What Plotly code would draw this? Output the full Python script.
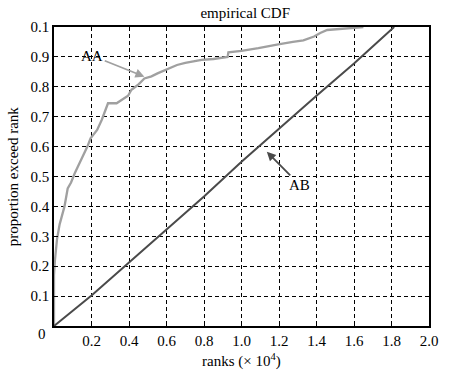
import plotly.graph_objects as go

# Data
aa_x = [0, 0, 0.005, 0.016, 0.03, 0.045, 0.056, 0.073, 0.091, 0.11, 0.134, 0.16, 0.178, 0.195,
        0.23, 0.255, 0.288, 0.334, 0.36, 0.395, 0.413, 0.447, 0.482, 0.52, 0.552, 0.6, 0.656,
        0.7, 0.787, 0.85, 0.926, 0.93, 1.0, 1.09, 1.15, 1.196, 1.274, 1.33, 1.387, 1.42,
        1.457, 1.55, 1.65]
aa_y = [0, 0.17, 0.22, 0.29, 0.34, 0.37, 0.40, 0.46, 0.48, 0.51, 0.54, 0.575, 0.60, 0.628,
        0.656, 0.69, 0.745, 0.745, 0.755, 0.77, 0.79, 0.806, 0.828, 0.835, 0.845, 0.858, 0.873,
        0.88, 0.89, 0.893, 0.9, 0.915, 0.92, 0.929, 0.935, 0.942, 0.95, 0.955, 0.968, 0.98,
        0.99, 0.995, 1.0]
ab_x = [0, 0.2, 0.4, 0.6, 0.8, 1.0, 1.2, 1.4, 1.6, 1.814]
ab_y = [0, 0.102, 0.212, 0.322, 0.433, 0.549, 0.66, 0.77, 0.878, 1.0]

x_ticks = [0.2, 0.4, 0.6, 0.8, 1.0, 1.2, 1.4, 1.6, 1.8, 2.0]
x_labels = ["0.2", "0.4", "0.6", "0.8", "1.0", "1.2", "1.4", "1.6", "1.8", "2.0"]
y_ticks = [0.1, 0.2, 0.3, 0.4, 0.5, 0.6, 0.7, 0.8, 0.9, 1.0]
y_labels = ["0.1", "0.2", "0.3", "0.4", "0.5", "0.6", "0.7", "0.8", "0.9", "0.1"]

FONT = "Liberation Serif"

fig = go.Figure()
fig.add_trace(go.Scatter(x=aa_x, y=aa_y, mode="lines",
                         line=dict(color="#a0a0a0", width=2.3), showlegend=False))
fig.add_trace(go.Scatter(x=ab_x, y=ab_y, mode="lines",
                         line=dict(color="#4a4a4a", width=2), showlegend=False))

axis_common = dict(showline=True, linecolor="black", linewidth=1.5, mirror=True,
                   showgrid=True, gridcolor="black", gridwidth=1, griddash="4px,3px",
                   ticks="inside", ticklen=4, tickcolor="black", zeroline=False,
                   tickfont=dict(family=FONT, size=15, color="black"))

fig.update_xaxes(range=[0, 2.0], tickvals=x_ticks, ticktext=x_labels, **axis_common)
fig.update_yaxes(range=[0, 1.0], tickvals=y_ticks, ticktext=y_labels, **axis_common)

fig.update_layout(
    width=450, height=372,
    margin=dict(l=54, r=14, t=27, b=46),
    paper_bgcolor="white", plot_bgcolor="white",
    font=dict(family=FONT, size=15, color="black"),
    title=dict(text="empirical CDF", x=0.545, xanchor="center", y=0.967, yanchor="middle",
               font=dict(family=FONT, size=15, color="black")),
    annotations=[
        dict(x=0.482, y=0.834, ax=0.204, ay=0.904, axref="x", ayref="y", xref="x", yref="y",
             text="AA", showarrow=True, arrowhead=2, arrowsize=1, arrowwidth=1.8,
             arrowcolor="#a0a0a0", font=dict(family=FONT, size=15, color="black")),
        dict(x=1.135, y=0.583, ax=1.31, ay=0.472, axref="x", ayref="y", xref="x", yref="y",
             text="AB", showarrow=True, arrowhead=2, arrowsize=1, arrowwidth=1.8,
             arrowcolor="#4a4a4a", font=dict(family=FONT, size=15, color="black")),
        dict(x=-0.032, y=-0.027, xref="paper", yref="paper", text="0", showarrow=False,
             xanchor="center", yanchor="middle", font=dict(family=FONT, size=15, color="black")),
        dict(x=0.5, y=-0.115, xref="paper", yref="paper", text="ranks (× 10<sup>4</sup>)",
             showarrow=False, xanchor="center", yanchor="middle",
             font=dict(family=FONT, size=15, color="black")),
        dict(x=-0.11, y=0.5, xref="paper", yref="paper", text="proportion exceed rank",
             textangle=-90, showarrow=False, xanchor="center", yanchor="middle",
             font=dict(family=FONT, size=15, color="black")),
    ],
)

fig.write_html("out.html", config={"displayModeBar": False},
               post_script="document.body.style.margin='0';document.body.style.padding='0';")
